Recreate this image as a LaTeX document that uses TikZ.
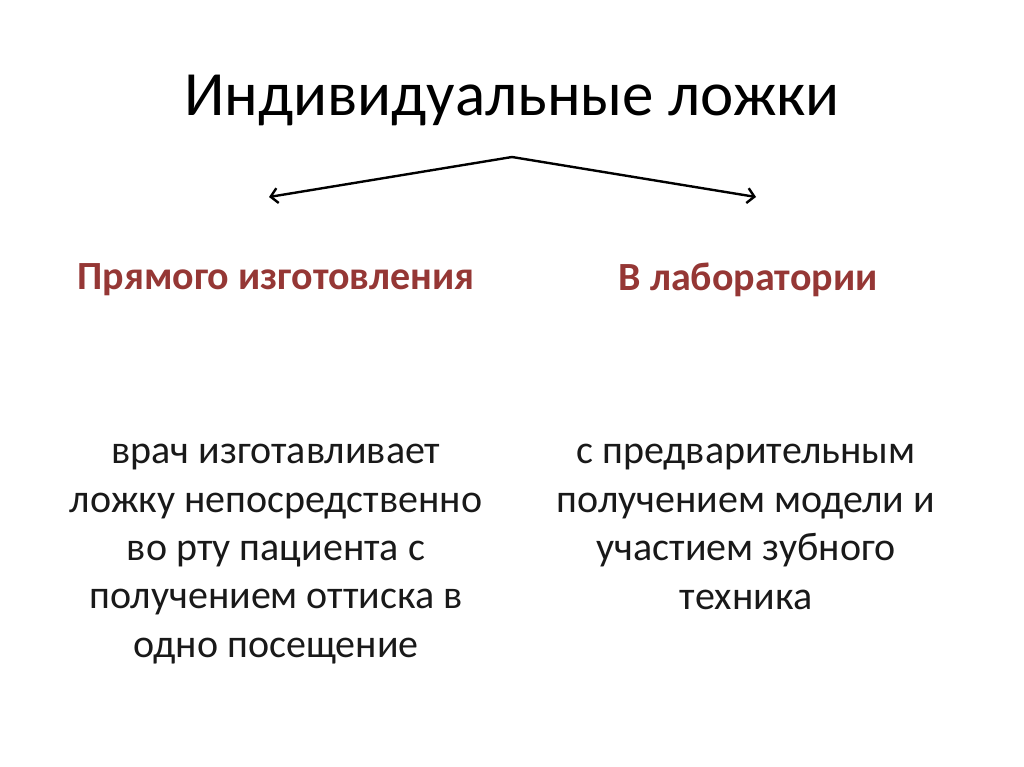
\documentclass[tikz,border=0pt]{standalone}
\usepackage{fontspec}
\setmainfont{Carlito}
\usetikzlibrary{arrows.meta}

\definecolor{headred}{HTML}{953735}

\tikzset{
  title/.style={font=\fontsize{63}{75}\selectfont},
  head/.style={font=\fontsize{40}{48}\selectfont\bfseries, text=headred},
  body/.style={font=\fontsize{40}{48.4}\selectfont, align=center, text=black!90},
  split/.style={line width=2.4pt, -{Straight Barb[length=7pt,width=15pt]}}
}

\begin{document}
\begin{tikzpicture}[x=1pt,y=-1pt]
  \useasboundingbox (0,0) rectangle (1024,767);

  % Title
  \node[title] (title) at (512,100) {Индивидуальные ложки};

  % Two kinds of trays
  \node[head] (direct) at (276,280) {Прямого изготовления};
  \node[head] (lab) at (748,280) {В лаборатории};

  % Descriptions
  \node[body] (directtext) at (276,554) {врач изготавливает\\ложку непосредственно\\во рту пациента с\\получением оттиска в\\одно посещение};
  \node[body] (labtext) at (746,527) {с предварительным\\получением модели и\\участием зубного\\техника};

  % Branching arrows
  \coordinate (apex) at (512,157);
  \coordinate (leftend) at (269,197);
  \coordinate (rightend) at (756,197);
  \draw[split] (apex) -- (leftend);
  \draw[split] (apex) -- (rightend);

\end{tikzpicture}
\end{document}
